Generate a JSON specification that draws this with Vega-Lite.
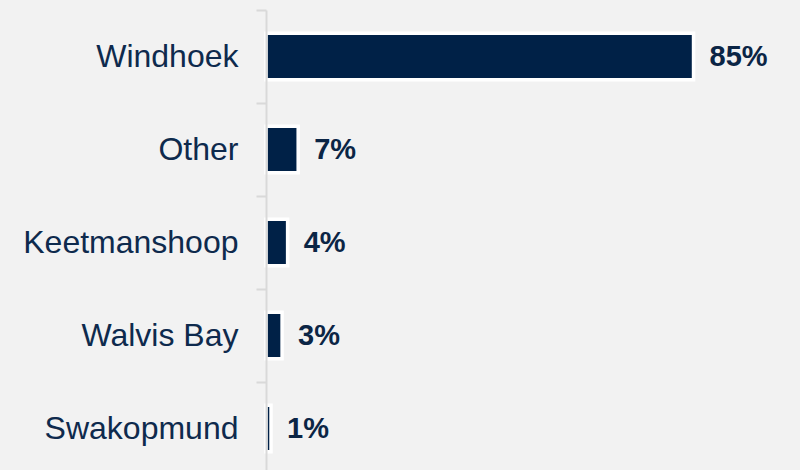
{
  "$schema": "https://vega.github.io/schema/vega-lite/v6.json",
  "width": 503,
  "height": 465,
  "autosize": {"type": "none"},
  "padding": {"left": 266, "right": 31, "top": 10, "bottom": 0},
  "background": "#f2f2f2",
  "config": {"view": {"stroke": null}},
  "data": {
    "values": [
      {"city": "Windhoek", "pct": 85, "label": "85%"},
      {"city": "Other", "pct": 6.4, "label": "7%"},
      {"city": "Keetmanshoop", "pct": 4.3, "label": "4%"},
      {"city": "Walvis Bay", "pct": 3.2, "label": "3%"},
      {"city": "Swakopmund", "pct": 1.0, "label": "1%"}
    ]
  },
  "encoding": {
    "y": {
      "field": "city",
      "type": "nominal",
      "sort": null,
      "scale": {"paddingInner": 0, "paddingOuter": 0},
      "axis": {
        "title": null,
        "zindex": 1,
        "bandPosition": 0,
        "domainColor": "#d9d9d9",
        "domainWidth": 2,
        "tickColor": "#d9d9d9",
        "tickWidth": 2,
        "tickSize": 10,
        "labelPadding": 18,
        "labelFont": "Liberation Sans",
        "labelFontSize": 32,
        "labelColor": "#0e2a4d",
        "labelLimit": 400
      }
    }
  },
  "layer": [
    {
      "mark": {"type": "bar", "height": {"band": 0.5}, "fill": "#002147", "stroke": "#ffffff", "strokeWidth": 3.5},
      "encoding": {
        "x": {"field": "pct", "type": "quantitative", "scale": {"domain": [0, 100]}, "axis": null}
      }
    },
    {
      "mark": {"type": "text", "align": "left", "baseline": "middle", "dx": 16, "font": "Liberation Sans", "fontSize": 29, "fontWeight": "bold", "fill": "#0b2545"},
      "encoding": {
        "x": {"field": "pct", "type": "quantitative", "scale": {"domain": [0, 100]}, "axis": null},
        "text": {"field": "label"}
      }
    }
  ]
}
